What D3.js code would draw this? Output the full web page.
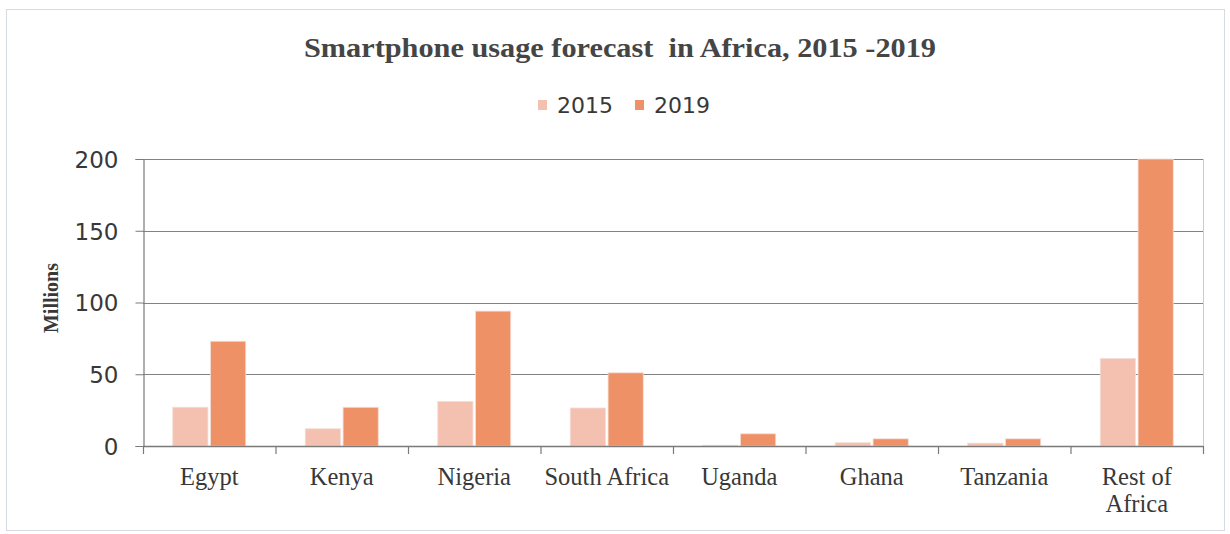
<!DOCTYPE html>
<html><head><meta charset="utf-8">
<script src="https://cdn.jsdelivr.net/npm/d3@7"></script>
<style>body{margin:0;background:#fff}svg{display:block}</style>
</head><body>
<svg id="c" width="1230" height="534"></svg>
<script>
const categories = ["Egypt","Kenya","Nigeria","South Africa","Uganda","Ghana","Tanzania","Rest of Africa"];
const series = ["2015","2019"];
const values2015 = [27, 12, 31, 26.5, 0.5, 2.3, 2, 61];
const values2019 = [73, 27, 94, 51, 8.5, 5, 5, 200];
const yTicks = [0, 50, 100, 150, 200];
const title = "Smartphone usage forecast  in Africa, 2015 -2019";
const yLabel = "Millions";
const colors = {"2015": "#f4c0af", "2019": "#ef9166"};

const svg = d3.select("#c");
const m = {left: 143, right: 1203, top: 159, bottom: 446};

// outer frame
svg.append("rect").attr("x", 6.5).attr("y", 9.5).attr("width", 1218).attr("height", 521)
  .attr("fill", "none").attr("stroke", "#d6dae2").attr("stroke-width", 1);

const x = d3.scaleBand().domain(categories).range([m.left, m.right]).padding(0);
const step = x.bandwidth();
const groupW = 73;
const xs = d3.scaleBand().domain(series).range([step/2 - groupW/2, step/2 + groupW/2]).paddingInner(0.07);
const y = d3.scaleLinear().domain([0, 200]).range([m.bottom, m.top]);

// plot right border
svg.append("line").attr("x1", m.right + 0.5).attr("x2", m.right + 0.5)
  .attr("y1", y(200)).attr("y2", y(0)).attr("stroke", "#c9ccd8").attr("stroke-width", 1);

// gridlines
svg.append("g").selectAll("line").data(yTicks.filter(d => d > 0)).join("line")
  .attr("x1", m.left).attr("x2", m.right)
  .attr("y1", d => Math.round(y(d)) + 0.5).attr("y2", d => Math.round(y(d)) + 0.5)
  .attr("stroke", "#828282").attr("stroke-width", 1.2);

// bars
const data = categories.map((c, i) => ({c, v: {"2015": values2015[i], "2019": values2019[i]}}));
const g = svg.append("g");
data.forEach(d => {
  series.forEach(s => {
    g.append("rect")
      .attr("x", x(d.c) + xs(s))
      .attr("y", y(d.v[s]))
      .attr("width", xs.bandwidth())
      .attr("height", y(0) - y(d.v[s]))
      .attr("fill", colors[s])
      .attr("stroke", "#f3ded6").attr("stroke-width", 0.8);
  });
});

// y axis
const yAxis = d3.axisLeft(y).tickValues(yTicks).tickSize(8).tickPadding(17);
const ya = svg.append("g").attr("transform", `translate(${m.left + 0.5},0)`).call(yAxis);
ya.select(".domain").attr("stroke", "#7a7a7a").attr("stroke-width", 1.2);
ya.selectAll(".tick line").attr("stroke", "#7a7a7a");
ya.selectAll("text").attr("font-family", "'DejaVu Sans', sans-serif").attr("font-size", 23)
  .attr("fill", "#383838").attr("dy", "0.36em");

// x axis
const xTickPos = d3.range(categories.length + 1).map(i => m.left + i * step);
svg.append("line").attr("x1", m.left).attr("x2", m.right).attr("y1", y(0) + 0.5).attr("y2", y(0) + 0.5)
  .attr("stroke", "#7a7a7a").attr("stroke-width", 1.4);
svg.append("g").selectAll("line").data(xTickPos).join("line")
  .attr("x1", d => d + 0.5).attr("x2", d => d + 0.5).attr("y1", y(0)).attr("y2", y(0) + 8)
  .attr("stroke", "#7a7a7a").attr("stroke-width", 1.2);

// category labels
const lab = svg.append("g").selectAll("text").data(categories).join("text")
  .attr("x", d => x(d) + step / 2).attr("y", 485)
  .attr("text-anchor", "middle")
  .attr("font-family", "'Liberation Serif', serif").attr("font-size", 24.5).attr("fill", "#383838");
lab.each(function(d) {
  const t = d3.select(this);
  if (d === "Rest of Africa") {
    t.append("tspan").attr("x", x(d) + step / 2).text("Rest of");
    t.append("tspan").attr("x", x(d) + step / 2).attr("dy", 27).text("Africa");
  } else {
    t.text(d);
  }
});

// title
svg.append("text").attr("x", 620).attr("y", 57).attr("text-anchor", "middle")
  .style("white-space", "pre")
  .attr("font-family", "'Liberation Serif', serif").attr("font-weight", "bold")
  .attr("font-size", 27).attr("fill", "#454545")
  .attr("textLength", 632).attr("lengthAdjust", "spacingAndGlyphs")
  .text(title);

// legend
const legX = [538, 635];
series.forEach((s, i) => {
  svg.append("rect").attr("x", legX[i]).attr("y", 100).attr("width", 9).attr("height", 10).attr("fill", colors[s]);
  svg.append("text").attr("x", legX[i] + 19).attr("y", 113)
    .attr("font-family", "'DejaVu Sans', sans-serif").attr("font-size", 22).attr("fill", "#383838").text(s);
});

// y label
svg.append("text").attr("transform", "translate(58,298) rotate(-90)").attr("text-anchor", "middle")
  .attr("font-family", "'Liberation Serif', serif").attr("font-weight", "bold")
  .attr("font-size", 20).attr("fill", "#383838")
  .attr("textLength", 70).attr("lengthAdjust", "spacingAndGlyphs")
  .text(yLabel);
</script>
</body></html>
